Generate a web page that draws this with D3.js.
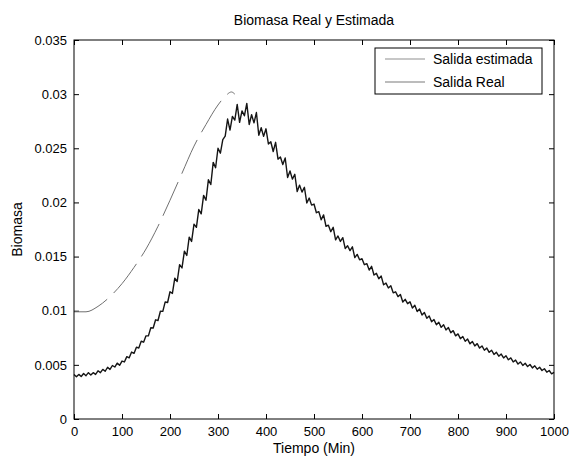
<!DOCTYPE html>
<html>
<head>
<meta charset="utf-8">
<script src="https://cdn.jsdelivr.net/npm/d3@7"></script>
<style>
  body { margin: 0; background: #fff; }
  svg { display: block; font-family: "Liberation Sans", Arial, Helvetica, sans-serif; }
</style>
</head>
<body>
<div id="chart"></div>
<script>
const width = 569;
const height = 457;
const margin = { top: 40, right: 15, bottom: 38, left: 74 };

// chart values
const title = "Biomasa Real y Estimada";
const xLabel = "Tiempo (Min)";
const yLabel = "Biomasa";
const xTicks = [0, 100, 200, 300, 400, 500, 600, 700, 800, 900, 1000];
const yTicks = [0, 0.005, 0.01, 0.015, 0.02, 0.025, 0.03, 0.035];
const seriesNames = ["Salida estimada", "Salida Real"];

// estimated output (only drawn up to ~335 min)
const estTime = [0, 25, 50, 75, 100, 125, 150, 175, 200, 225, 250, 275, 300, 315, 328, 335];
const estValues = [0.0099, 0.0099, 0.0104, 0.0113, 0.0125, 0.0140, 0.0157, 0.0178,
  0.0202, 0.0227, 0.0252, 0.0272, 0.0290, 0.0298, 0.0302, 0.0300];

// measured output, one sample every 5 min
const realStep = 5;
const realValues = [
  0.0041, 0.0039, 0.00412, 0.00392, 0.0042, 0.0040, 0.00428, 0.00406, 0.00428, 0.00412,
  0.00445, 0.00428, 0.00458, 0.00441, 0.00478, 0.00458, 0.00494, 0.0048, 0.00516, 0.00496,
  0.00535, 0.00527, 0.00576, 0.00565, 0.00618, 0.00606, 0.00663, 0.00656, 0.00718, 0.00709,
  0.00768, 0.00768, 0.00842, 0.00841, 0.00916, 0.0091, 0.00995, 0.00994, 0.01081, 0.01076,
  0.01175, 0.0116, 0.013, 0.0127, 0.01425, 0.01395, 0.0155, 0.0151, 0.0168, 0.0164,
  0.018, 0.0177, 0.01935, 0.01895, 0.02065, 0.0202, 0.0221, 0.02165, 0.0237, 0.0232,
  0.025, 0.02455, 0.0258, 0.02612, 0.0277, 0.02668, 0.02795, 0.0276, 0.02905, 0.0274,
  0.02845, 0.028, 0.02915, 0.0272, 0.0281, 0.02735, 0.0283, 0.0262, 0.0269, 0.0261,
  0.0268, 0.0254, 0.0256, 0.0247, 0.02555, 0.024, 0.0242, 0.0235, 0.0241, 0.0223,
  0.0229, 0.02215, 0.0226, 0.021, 0.0216, 0.02095, 0.0214, 0.01995, 0.0204, 0.01975,
  0.01985, 0.01905, 0.01915, 0.0184, 0.01885, 0.0178, 0.0179, 0.0173, 0.0177, 0.01655,
  0.0169, 0.0164, 0.01675, 0.01575, 0.016, 0.01555, 0.0159, 0.0149, 0.0152, 0.0147,
  0.0148, 0.01425, 0.01435, 0.01375, 0.0141, 0.0133, 0.01345, 0.01295, 0.0132, 0.0124,
  0.01255, 0.0121, 0.0123, 0.01165, 0.01175, 0.0113, 0.0115, 0.0108, 0.01105, 0.01065,
  0.01082, 0.01024, 0.0105, 0.00992, 0.01016, 0.0096, 0.00984, 0.0093, 0.00952, 0.00898,
  0.00918, 0.0087, 0.00894, 0.00846, 0.0087, 0.00822, 0.00844, 0.00796, 0.00816, 0.00768,
  0.00786, 0.00742, 0.00762, 0.00718, 0.00738, 0.00694, 0.00716, 0.00675, 0.00696, 0.00655,
  0.00675, 0.00635, 0.00655, 0.00616, 0.00635, 0.00596, 0.00616, 0.0058, 0.006, 0.00564,
  0.00584, 0.00547, 0.00564, 0.00527, 0.00544, 0.00507, 0.00527, 0.00495, 0.00515, 0.00484,
  0.00503, 0.00472, 0.00491, 0.0046, 0.00478, 0.00448, 0.00464, 0.00432, 0.00448, 0.00417,
  0.0043
];

const svg = d3.select("#chart").append("svg")
  .attr("width", width)
  .attr("height", height);

const x = d3.scaleLinear().domain([0, 1000]).range([margin.left, width - margin.right]);
const y = d3.scaleLinear().domain([0, 0.035]).range([height - margin.bottom, margin.top]);

const fmtY = d => d === 0 ? "0" : String(+d.toFixed(3));
const tickLen = 5;
const tickFont = 13;
const labelFont = 14;

// box and inward ticks on all four sides, matlab style
const gAxes = svg.append("g");

gAxes.append("g")
  .attr("transform", `translate(0,${y(0)})`)
  .call(d3.axisBottom(x).tickValues(xTicks).tickSize(-tickLen).tickPadding(8).tickFormat(d3.format("d")))
  .call(g => g.select(".domain").remove());
gAxes.append("g")
  .attr("transform", `translate(0,${y(0.035)})`)
  .call(d3.axisTop(x).tickValues(xTicks).tickSize(-tickLen).tickFormat(""))
  .call(g => g.select(".domain").remove());
gAxes.append("g")
  .attr("transform", `translate(${x(0)},0)`)
  .call(d3.axisLeft(y).tickValues(yTicks).tickSize(-tickLen).tickPadding(7).tickFormat(fmtY))
  .call(g => g.select(".domain").remove());
gAxes.append("g")
  .attr("transform", `translate(${x(1000)},0)`)
  .call(d3.axisRight(y).tickValues(yTicks).tickSize(-tickLen).tickFormat(""))
  .call(g => g.select(".domain").remove());

svg.selectAll(".tick text")
  .attr("font-size", tickFont)
  .attr("font-family", "Liberation Sans, Arial, sans-serif")
  .attr("fill", "#000");
svg.selectAll(".tick line").attr("stroke", "#000");

// series
const lineEst = d3.line().x((d, i) => x(estTime[i])).y(d => y(d)).curve(d3.curveMonotoneX);
const lineReal = d3.line().x((d, i) => x(i * realStep)).y(d => y(d));

svg.append("path")
  .datum(estValues)
  .attr("fill", "none")
  .attr("stroke", "#707070")
  .attr("stroke-width", 1)
  .attr("stroke-dasharray", "37,9")
  .attr("d", lineEst);

svg.append("path")
  .datum(realValues)
  .attr("fill", "none")
  .attr("stroke", "#151515")
  .attr("stroke-width", 1.4)
  .attr("stroke-linejoin", "round")
  .attr("d", lineReal);

svg.append("rect")
  .attr("x", x(0)).attr("y", y(0.035))
  .attr("width", x(1000) - x(0)).attr("height", y(0) - y(0.035))
  .attr("fill", "none").attr("stroke", "#000").attr("stroke-width", 1);

// legend
const legend = svg.append("g").attr("transform", "translate(375,48)");
legend.append("rect")
  .attr("width", 167).attr("height", 46)
  .attr("fill", "#fff").attr("stroke", "#000");
const legendColors = ["#909090", "#7a7a7a"];
seriesNames.forEach((name, i) => {
  const ly = 11 + i * 23;
  legend.append("line")
    .attr("x1", 10).attr("x2", 50).attr("y1", ly).attr("y2", ly)
    .attr("stroke", legendColors[i]).attr("stroke-width", 1.2);
  legend.append("text")
    .attr("x", 58).attr("y", ly).attr("dy", "0.36em")
    .attr("font-size", labelFont)
    .text(name);
});

// title and axis labels
svg.append("text")
  .attr("x", (x(0) + x(1000)) / 2).attr("y", 25)
  .attr("text-anchor", "middle").attr("font-size", labelFont)
  .text(title);
svg.append("text")
  .attr("x", (x(0) + x(1000)) / 2).attr("y", 453)
  .attr("text-anchor", "middle").attr("font-size", labelFont)
  .text(xLabel);
svg.append("text")
  .attr("transform", `translate(22,${(y(0) + y(0.035)) / 2}) rotate(-90)`)
  .attr("text-anchor", "middle").attr("font-size", labelFont)
  .text(yLabel);
</script>
</body>
</html>
